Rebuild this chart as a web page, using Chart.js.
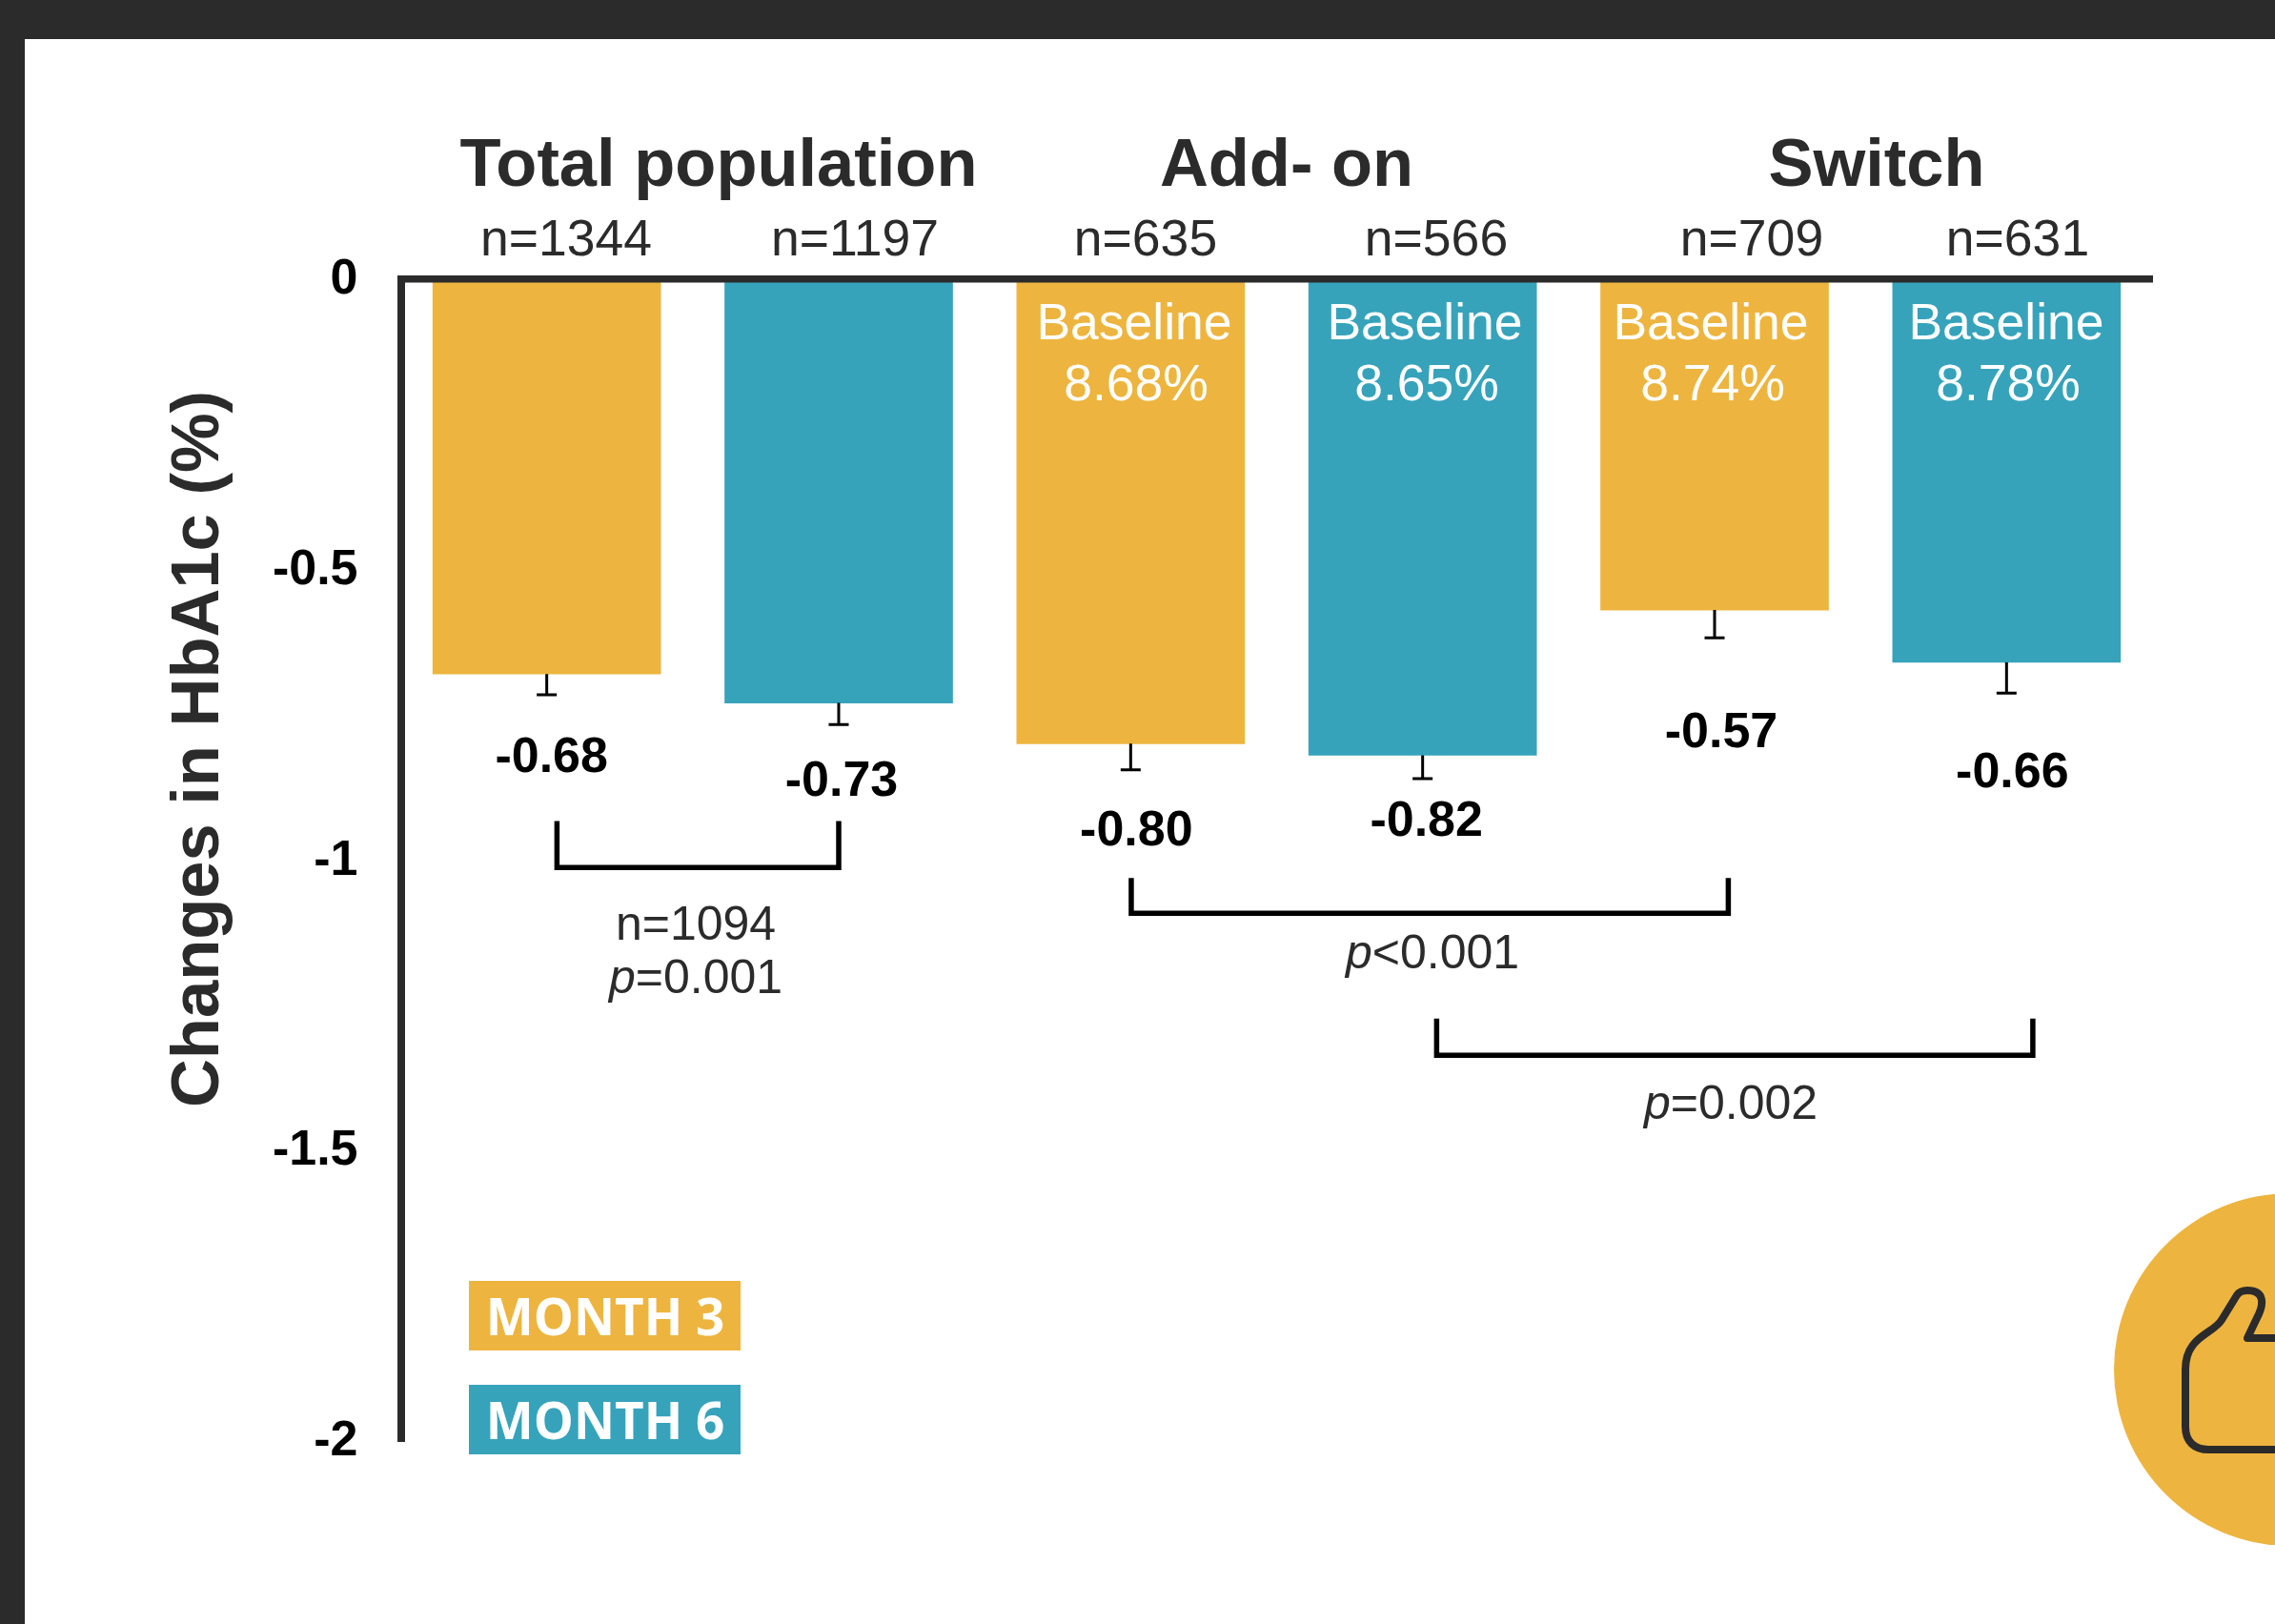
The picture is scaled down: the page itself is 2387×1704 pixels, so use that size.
<!DOCTYPE html>
<html>
<head>
<meta charset="utf-8">
<title>Changes in HbA1c</title>
<script src="https://cdn.jsdelivr.net/npm/chart.js@4/dist/chart.umd.js"></script>
<style>
    html, body { margin: 0; padding: 0; background: #fff; }
    #wrap { position: relative; width: 2387px; height: 1704px; overflow: hidden; }
    #wrap canvas { position: absolute; left: 0; top: 0; }
    #frame { position: absolute; left: 0; top: 0; right: 0; bottom: 0; border-top: 41px solid #2b2b2b; border-left: 26px solid #2b2b2b; pointer-events: none; }
</style>
</head>
<body>
<div id="wrap">
    <canvas id="hba1cChart" width="2387" height="1704"></canvas>
    <div id="frame"></div>
</div>
<script>
const groups = ['Total population', 'Add- on', 'Switch'];
const month3 = [-0.68, -0.80, -0.57];
const month6 = [-0.73, -0.82, -0.66];
const month3Err = [0.036, 0.045, 0.048];
const month6Err = [0.037, 0.04, 0.053];
const month3N = [1344, 635, 709];
const month6N = [1197, 566, 631];
const month3Baseline = [null, 8.68, 8.74];
const month6Baseline = [null, 8.65, 8.78];
const yTicks = [0, -0.5, -1, -1.5, -2];

const GOLD = '#edb53f';
const TEAL = '#36a3bb';
const INK = '#2b2b2b';
const SANS = '"Liberation Sans", Arial, sans-serif';

// each month gets its own dataset, one bar per slot
const slots = groups.flatMap(g => [g + ' MONTH 3', g + ' MONTH 6']);
const changes = month3.flatMap((v, i) => [v, month6[i]]);
const errors = month3Err.flatMap((v, i) => [v, month6Err[i]]);
const sampleSizes = month3N.flatMap((v, i) => [v, month6N[i]]);
const baselines = month3Baseline.flatMap((v, i) => [v, month6Baseline[i]]);

// text placement around the bars, in canvas pixels
const groupTitleX = [754, 1350, 1969];
const nLabelX = [594, 897, 1202, 1507, 1838, 2117];
const baselineX = [null, null, 1190, 1495, 1795, 2105];
const valueLabelDx = [5, 3, 6, 4, 7, 6];
const valueLabelDy = [85, 79, 89, 67, 126, 113];

// slot positions and axis values of the comparison brackets
const brackets = [
    { from: 0.035, to: 1.0, tip: -0.933, base: -1.013 },
    { from: 2.002, to: 4.047, tip: -1.031, base: -1.092 },
    { from: 3.048, to: 5.09, tip: -1.273, base: -1.336 }
];
const pLabels = [
    { x: 730, y: 1042, text: '=0.001' },
    { x: 1503, y: 1016, text: '<0.001' },
    { x: 1816, y: 1174, text: '=0.002' }
];

function drawText(ctx, text, x, y, font, color, align) {
    ctx.font = font;
    ctx.fillStyle = color;
    ctx.textAlign = align || 'center';
    ctx.textBaseline = 'alphabetic';
    ctx.fillText(text, x, y);
}

// italic p followed by the upright rest, centred as one run
function drawPValue(ctx, label) {
    const italic = 'italic 50px ' + SANS;
    const plain = '50px ' + SANS;
    ctx.font = italic;
    const pWidth = ctx.measureText('p').width;
    ctx.font = plain;
    const restWidth = ctx.measureText(label.text).width;
    const left = label.x - (pWidth + restWidth) / 2;
    drawText(ctx, 'p', left, label.y, italic, INK, 'left');
    drawText(ctx, label.text, left + pWidth, label.y, plain, INK, 'left');
}

function drawThumb(ctx) {
    ctx.fillStyle = GOLD;
    ctx.beginPath();
    ctx.arc(2403, 1437, 185, 0, Math.PI * 2);
    ctx.fill();

    ctx.strokeStyle = INK;
    ctx.lineWidth = 8;
    ctx.lineJoin = 'round';
    ctx.beginPath();
    ctx.moveTo(2390, 1404);
    ctx.lineTo(2358, 1404);
    ctx.lineTo(2368, 1383);
    ctx.bezierCurveTo(2376, 1368, 2376, 1354, 2358, 1354);
    ctx.bezierCurveTo(2352, 1354, 2349, 1356, 2347, 1359);
    ctx.lineTo(2331, 1385);
    ctx.bezierCurveTo(2322, 1400, 2293, 1402, 2293, 1437);
    ctx.lineTo(2293, 1497);
    ctx.bezierCurveTo(2293, 1513, 2303, 1521, 2317, 1521);
    ctx.lineTo(2390, 1521);
    ctx.stroke();
}

const overlayPlugin = {
    id: 'overlay',
    afterDraw(chart) {
        const ctx = chart.ctx;
        const x = chart.scales.x;
        const y = chart.scales.y;
        ctx.save();

        // error bars hang below each bar
        ctx.strokeStyle = '#000';
        ctx.lineWidth = 3;
        changes.forEach((v, i) => {
            const px = x.getPixelForValue(i);
            const top = y.getPixelForValue(v);
            const cap = y.getPixelForValue(v - errors[i]);
            ctx.beginPath();
            ctx.moveTo(px, top);
            ctx.lineTo(px, cap);
            ctx.moveTo(px - 10.5, cap);
            ctx.lineTo(px + 10.5, cap);
            ctx.stroke();

            drawText(ctx, v.toFixed(2), px + valueLabelDx[i], top + valueLabelDy[i] + 18, 'bold 52px ' + SANS, '#000');
            drawText(ctx, 'n=' + sampleSizes[i], nLabelX[i], 268, '53.5px ' + SANS, INK);

            if (baselines[i] !== null) {
                drawText(ctx, 'Baseline', baselineX[i], 356, '53.5px ' + SANS, '#fff');
                drawText(ctx, baselines[i].toFixed(2) + '%', baselineX[i] + 2, 420, '53.5px ' + SANS, '#fff');
            }
        });

        groups.forEach((g, i) => {
            drawText(ctx, g, groupTitleX[i], 195, 'bold 70.5px ' + SANS, INK);
        });

        ctx.strokeStyle = '#000';
        ctx.lineWidth = 5.5;
        ctx.lineJoin = 'miter';
        brackets.forEach(b => {
            const left = x.getPixelForValue(b.from);
            const right = x.getPixelForValue(b.to);
            const tip = y.getPixelForValue(b.tip);
            const base = y.getPixelForValue(b.base);
            ctx.beginPath();
            ctx.moveTo(left, tip);
            ctx.lineTo(left, base);
            ctx.lineTo(right, base);
            ctx.lineTo(right, tip);
            ctx.stroke();
        });

        drawText(ctx, 'n=1094', 730, 986, '50px ' + SANS, INK);
        pLabels.forEach(label => drawPValue(ctx, label));

        // y axis title, rotated
        ctx.save();
        ctx.translate(229, 786);
        ctx.rotate(-Math.PI / 2);
        drawText(ctx, 'Changes in HbA1c (%)', 0, 0, 'bold 70.5px ' + SANS, INK);
        ctx.restore();

        // month key
        chart.data.datasets.forEach((ds, i) => {
            const top = i === 0 ? 1344 : 1453;
            ctx.fillStyle = ds.backgroundColor;
            ctx.fillRect(492, top, 285, 73);
            drawText(ctx, ds.label, 635, top + 57, 'bold 53px "Open Sans", sans-serif', '#fff');
        });

        drawThumb(ctx);
        ctx.restore();
    }
};

new Chart(document.getElementById('hba1cChart').getContext('2d'), {
    type: 'bar',
    data: {
        labels: slots,
        datasets: [
            { label: 'MONTH 3', data: month3.flatMap(v => [v, null]), backgroundColor: GOLD },
            { label: 'MONTH 6', data: month6.flatMap(v => [null, v]), backgroundColor: TEAL }
        ]
    },
    options: {
        responsive: false,
        animation: false,
        layout: { padding: { left: 0, right: 128.5, top: 292.5, bottom: 192 } },
        datasets: { bar: { grouped: false, barThickness: 239, borderWidth: 0 } },
        scales: {
            x: {
                position: 'top',
                grid: { display: false, drawTicks: false },
                ticks: { display: false },
                border: { display: true, color: INK, width: 7.5, z: 1 }
            },
            y: {
                min: -2,
                max: 0,
                afterFit(scale) { scale.width = 420.5; },
                afterBuildTicks(scale) { scale.ticks = yTicks.map(value => ({ value })); },
                grid: { display: false, drawTicks: false },
                border: { display: true, color: INK, width: 8, z: 1 },
                ticks: {
                    color: '#000',
                    padding: 45,
                    labelOffset: 1,
                    font: { family: SANS, size: 52, weight: 'bold' },
                    callback: value => String(value)
                }
            }
        },
        plugins: { legend: { display: false }, tooltip: { enabled: false } }
    },
    plugins: [overlayPlugin]
});
</script>
</body>
</html>
